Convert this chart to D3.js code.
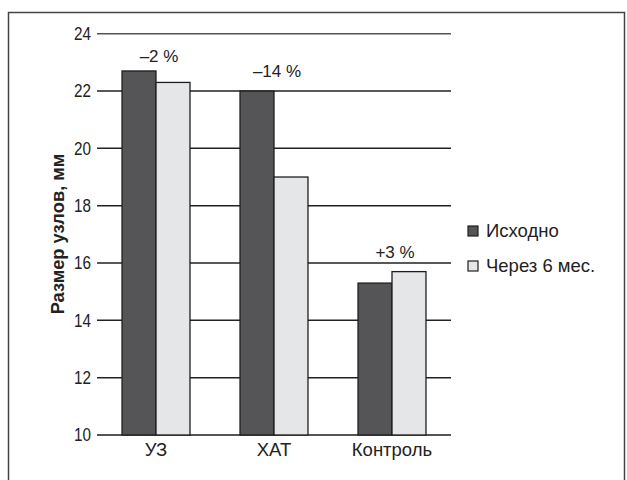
<!DOCTYPE html>
<html>
<head>
<meta charset="utf-8">
<script src="https://cdn.jsdelivr.net/npm/d3@7"></script>
<style>
  body { margin: 0; background: #fff; }
  text { font-family: "Liberation Sans", Arial, sans-serif; fill: #222; }
</style>
</head>
<body>
<svg id="viz" width="627" height="480"></svg>
<script>
// data
var categories = ["УЗ", "ХАТ", "Контроль"];
var seriesNames = ["Исходно", "Через 6 мес."];
var baseline = [22.7, 22.0, 15.3];
var after6 = [22.3, 19.0, 15.7];
var changeLabels = ["–2 %", "–14 %", "+3 %"];
var yTicks = [10, 12, 14, 16, 18, 20, 22, 24];
var colors = ["#555557", "#e5e6e8"];

var svg = d3.select("#viz");

// outer frame (bottom is cut off in the original)
svg.append("path")
    .attr("d", "M8.5,490 V12.5 H624.5 V490")
    .attr("fill", "none")
    .attr("stroke", "#444")
    .attr("stroke-width", 1.5);

var plotLeft = 97, plotRight = 451, plotTop = 33.7, plotBottom = 435;

var y = d3.scaleLinear().domain([10, 24]).range([plotBottom, plotTop]);
var x0 = d3.scaleBand().domain(categories).range([plotLeft, plotRight])
    .paddingInner(0.424).paddingOuter(0.212);
var x1 = d3.scaleBand().domain(seriesNames).range([0, x0.bandwidth()]);

// grid lines
svg.append("g").selectAll("line")
    .data(yTicks)
    .enter()
    .append("line")
    .attr("x1", plotLeft).attr("x2", plotRight)
    .attr("y1", function (d) { return y(d); })
    .attr("y2", function (d) { return y(d); })
    .attr("stroke", function (d) { return d == 24 || d == 10 ? "#555" : "#222"; })
    .attr("stroke-width", function (d) { return d == 10 ? 2 : 1.5; });

// y tick labels (slightly condensed like the original)
svg.append("g").selectAll("text")
    .data(yTicks)
    .enter()
    .append("text")
    .attr("transform", function (d) { return "translate(91," + y(d) + ") scale(0.87,1)"; })
    .attr("dy", "0.36em")
    .attr("text-anchor", "end")
    .style("font-size", "17.5px")
    .text(function (d) { return d; });

// y title
svg.append("text")
    .attr("transform", "translate(64,234) rotate(-90)")
    .attr("text-anchor", "middle")
    .style("font-size", "18.3px")
    .style("font-weight", "bold")
    .text("Размер узлов, мм");

// bars
var groups = svg.append("g").selectAll("g")
    .data(categories)
    .enter()
    .append("g")
    .attr("transform", function (d) { return "translate(" + x0(d) + ",0)"; });

groups.selectAll("rect")
    .data(function (d, i) {
        return [
            { s: seriesNames[0], v: baseline[i], c: colors[0] },
            { s: seriesNames[1], v: after6[i], c: colors[1] }
        ];
    })
    .enter()
    .append("rect")
    .attr("x", function (d) { return x1(d.s); })
    .attr("y", function (d) { return y(d.v); })
    .attr("width", x1.bandwidth())
    .attr("height", function (d) { return y(10) - y(d.v); })
    .attr("fill", function (d) { return d.c; })
    .attr("stroke", "#1e1e1e")
    .attr("stroke-width", 1.3);

// change annotations
var annoY = [61.5, 77, 258];
svg.append("g").selectAll("text")
    .data(categories)
    .enter()
    .append("text")
    .attr("x", function (d) { return x0(d) + x0.bandwidth() / 2 + 3; })
    .attr("y", function (d, i) { return annoY[i]; })
    .attr("text-anchor", "middle")
    .style("font-size", "17px")
    .text(function (d, i) { return changeLabels[i]; });

// category labels
svg.append("g").selectAll("text")
    .data(categories)
    .enter()
    .append("text")
    .attr("x", function (d) { return x0(d) + x0.bandwidth() / 2; })
    .attr("y", 456)
    .attr("text-anchor", "middle")
    .style("font-size", "18.5px")
    .text(function (d) { return d; });

// legend
var legend = svg.append("g").selectAll("g")
    .data(seriesNames)
    .enter()
    .append("g")
    .attr("transform", function (d, i) { return "translate(468," + (226 + i * 35) + ")"; });

legend.append("rect")
    .attr("width", 10).attr("height", 10)
    .attr("fill", function (d, i) { return colors[i]; })
    .attr("stroke", "#1e1e1e")
    .attr("stroke-width", 1.2);

legend.append("text")
    .attr("x", 18)
    .attr("y", 11)
    .style("font-size", "18.5px")
    .text(function (d) { return d; });
</script>
</body>
</html>
